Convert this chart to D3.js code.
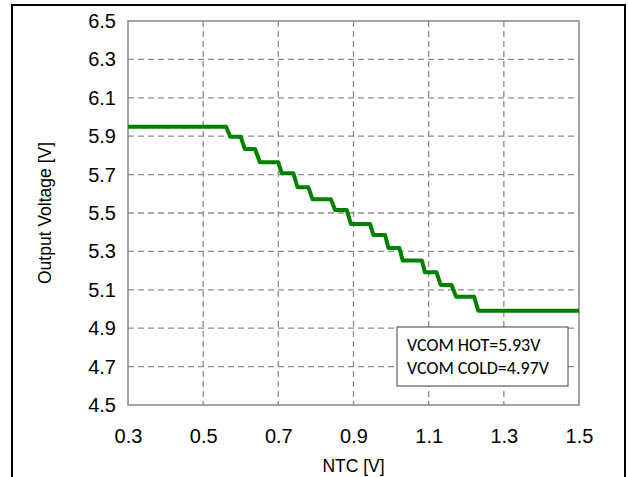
<!DOCTYPE html>
<html><head><meta charset="utf-8">
<script src="https://cdn.jsdelivr.net/npm/d3@7"></script>
<style>html,body{margin:0;padding:0;background:#fff;}</style>
</head><body>
<script>
// NTC [V] breakpoints of the staircase
const ntc = [0.30, 0.561, 0.572, 0.600, 0.611, 0.638, 0.651, 0.700, 0.709, 0.740, 0.751, 0.780, 0.791, 0.840, 0.851, 0.882, 0.893, 0.944, 0.953, 0.984, 0.993, 1.022, 1.031, 1.082, 1.090, 1.121, 1.132, 1.161, 1.173, 1.221, 1.232, 1.50];
// Output voltage [V] at each breakpoint
const vout = [5.949, 5.949, 5.897, 5.897, 5.833, 5.833, 5.764, 5.764, 5.707, 5.707, 5.634, 5.634, 5.571, 5.571, 5.516, 5.516, 5.443, 5.443, 5.385, 5.385, 5.318, 5.318, 5.252, 5.252, 5.191, 5.191, 5.125, 5.125, 5.064, 5.064, 4.991, 4.991];
const xTicks = [0.3, 0.5, 0.7, 0.9, 1.1, 1.3, 1.5];
const yTicks = [4.5, 4.7, 4.9, 5.1, 5.3, 5.5, 5.7, 5.9, 6.1, 6.3, 6.5];
const legendLines = ["VCOM HOT=5.93V", "VCOM COLD=4.97V"];
const xTitle = "NTC [V]";
const yTitle = "Output Voltage [V]";

const W = 628, H = 477;
const FONT = "'Liberation Sans', Arial, sans-serif";
const svg = d3.select("body").append("svg").attr("width", W).attr("height", H);

// outer frame
svg.append("rect").attr("x", 12).attr("y", 5).attr("width", 613).attr("height", 490)
  .attr("fill", "none").attr("stroke", "#000").attr("stroke-width", 2);

const L = 128, R = 579, T = 21, B = 405;
const x = d3.scaleLinear().domain([0.3, 1.5]).range([L, R]);
const y = d3.scaleLinear().domain([4.5, 6.5]).range([B, T]);

// gridlines
const g = svg.append("g");
g.selectAll(".vg").data(xTicks.slice(1, -1)).join("line")
  .attr("x1", d => x(d)).attr("x2", d => x(d)).attr("y1", T).attr("y2", B)
  .attr("stroke", "#8c8c8c").attr("stroke-width", 1.3).attr("stroke-dasharray", "6,4");
g.selectAll(".hg").data(yTicks.slice(1, -1)).join("line")
  .attr("x1", L).attr("x2", R).attr("y1", d => y(d)).attr("y2", d => y(d))
  .attr("stroke", "#8c8c8c").attr("stroke-width", 1.3).attr("stroke-dasharray", "6,4");

// plot border
svg.append("rect").attr("x", L).attr("y", T).attr("width", R - L).attr("height", B - T)
  .attr("fill", "none").attr("stroke", "#8c8c8c").attr("stroke-width", 1.6);

// axes (labels only)
const xAxis = d3.axisBottom(x).tickValues(xTicks).tickSize(0).tickPadding(24).tickFormat(d3.format(".1f"));
const yAxis = d3.axisLeft(y).tickValues(yTicks).tickSize(0).tickPadding(12).tickFormat(d3.format(".1f"));
const gx = svg.append("g").attr("transform", `translate(0,${B})`).call(xAxis);
const gy = svg.append("g").attr("transform", `translate(${L},0)`).call(yAxis);
[gx, gy].forEach(a => {
  a.attr("font-family", null).attr("font-size", null);
  a.select(".domain").remove();
  a.selectAll("text").style("font-family", FONT)
    .style("font-size", "20px").attr("fill", "#000");
});

// data line
const line = d3.line().x((d, i) => x(ntc[i])).y((d, i) => y(vout[i]));
svg.append("path").datum(ntc).attr("d", line).attr("fill", "none")
  .attr("stroke", "#008000").attr("stroke-width", 4).attr("stroke-linejoin", "round");

// axis titles
svg.append("text").attr("x", (L + R) / 2).attr("y", 472).attr("text-anchor", "middle")
  .style("font-family", FONT).style("font-size", "17.5px").text(xTitle);
svg.append("text").attr("transform", `translate(51,${(T + B) / 2}) rotate(-90)`).attr("text-anchor", "middle")
  .style("font-family", FONT).style("font-size", "17.5px").text(yTitle);

// legend box
svg.append("rect").attr("x", 397).attr("y", 327).attr("width", 171).attr("height", 59)
  .attr("fill", "#fff").attr("stroke", "#404040").attr("stroke-width", 1);
svg.selectAll(".lg").data(legendLines).join("text")
  .attr("x", 407).attr("y", (d, i) => 351 + i * 23)
  .style("font-family", "Carlito, Lato, 'Open Sans', sans-serif").style("font-size", "18px")
  .attr("fill", "#000").text(d => d);
</script>
</body></html>
